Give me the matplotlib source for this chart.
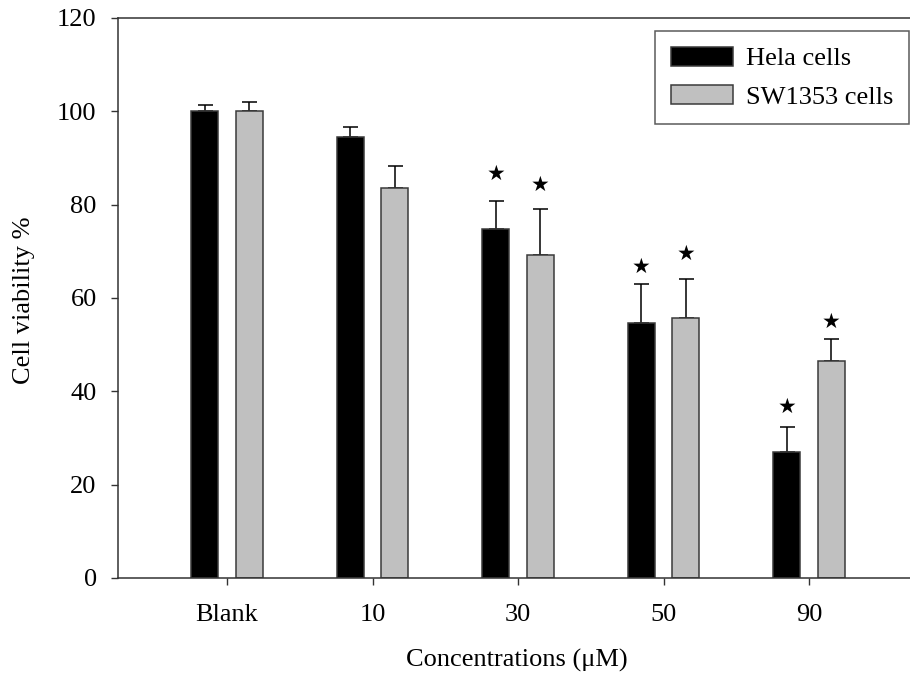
import matplotlib
matplotlib.use("Agg")
import matplotlib.pyplot as plt
import numpy as np

categories = ["Blank", "10", "30", "50", "90"]
hela = [100.0, 94.6, 74.8, 54.6, 26.9]
hela_err = [1.4, 2.1, 5.9, 8.5, 5.5]
sw = [100.0, 83.5, 69.3, 55.8, 46.6]
sw_err = [1.9, 4.7, 9.7, 8.3, 4.7]
hela_star = [None, None, 86.6, 66.7, 36.6]
sw_star = [None, None, 84.2, 69.4, 54.8]
series_names = ["Hela cells", "SW1353 cells"]
yticks = [0, 20, 40, 60, 80, 100, 120]

plt.rcParams['font.family'] = ['Liberation Serif', 'DejaVu Serif']
fs = 19

fig = plt.figure(figsize=(9.10, 6.85), dpi=100)
ax = fig.add_axes([117.5/910, 1-578/685, 1-117.5/910, (578-18)/685])

x = np.arange(len(categories))
w = 0.186
off = 0.152
edge = '#3a3a3a'
ax.bar(x - off, hela, w, color='black', edgecolor=edge, linewidth=1.1, label=series_names[0], zorder=2)
ax.bar(x + off, sw, w, color='#c0c0c0', edgecolor=edge, linewidth=1.1, label=series_names[1], zorder=2)
ax.errorbar(x - off, hela, yerr=[np.zeros(len(hela)), hela_err], fmt='none', ecolor='black',
            elinewidth=1.1, capsize=5.4, capthick=1.1, zorder=1)
ax.errorbar(x + off, sw, yerr=[np.zeros(len(sw)), sw_err], fmt='none', ecolor='black',
            elinewidth=1.1, capsize=5.4, capthick=1.1, zorder=1)

for i in range(len(categories)):
    if hela_star[i] is not None:
        ax.text(x[i] - off, hela_star[i], '★', ha='center', va='center', fontsize=15,
                family=['DejaVu Sans'], color='black')
    if sw_star[i] is not None:
        ax.text(x[i] + off, sw_star[i], '★', ha='center', va='center', fontsize=15,
                family=['DejaVu Sans'], color='black')

ax.set_xlim(-0.753, 4.694)
ax.set_ylim(0, 120)
ax.set_yticks(yticks)
ax.set_xticks(x)
ax.set_xticklabels(categories)
ax.tick_params(axis='y', direction='out', length=5, width=1, pad=10, labelsize=fs, colors='#333333', labelcolor='black')
ax.tick_params(axis='x', direction='out', length=5, width=1, pad=14, labelsize=fs, colors='#333333', labelcolor='black')
ax.spines['right'].set_visible(False)
for s in ['left', 'bottom', 'top']:
    ax.spines[s].set_color('#333333')
    ax.spines[s].set_linewidth(1.1)

fig.text(517/910, 1 - 660/685, 'Concentrations (μM)', fontsize=fs, ha='center', va='center')
fig.text(24/910, 1 - 300/685, 'Cell viability %', fontsize=fs, ha='center', va='center', rotation=90)

leg = ax.legend(loc='upper right', bbox_to_anchor=(909/910, 1 - 31/685), bbox_transform=fig.transFigure,
                fontsize=fs, frameon=True, fancybox=False, handlelength=2.35, handleheight=0.72,
                borderpad=0.6, labelspacing=0.55, handletextpad=0.5, borderaxespad=0)
leg.get_frame().set_edgecolor('#333333')
leg.get_frame().set_linewidth(1.1)

fig.savefig('out.png', dpi=100)
